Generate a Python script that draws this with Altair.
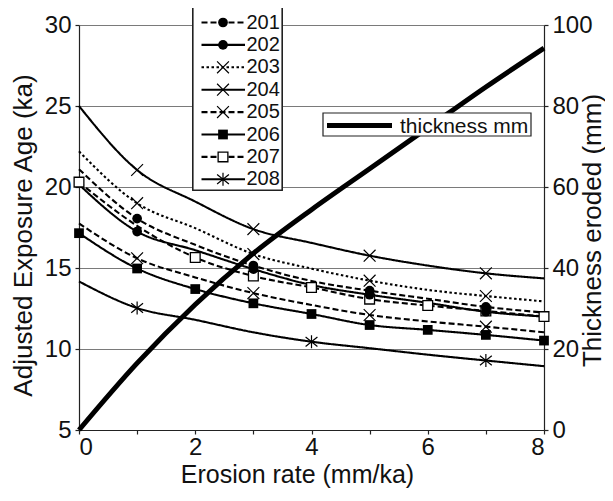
import altair as alt
import pandas as pd

# ---------------- data ----------------
erosion_rate = [0, 1, 2, 3, 4, 5, 6, 7, 8]

age_201 = [21.1, 18.05, 16.43, 15.15, 14.2, 13.6, 13.1, 12.6, 12.25]
age_202 = [20.15, 17.25, 16.1, 14.93, 13.95, 13.35, 12.85, 12.3, 12.0]
age_203 = [22.2, 19.0, 17.46, 15.86, 14.96, 14.22, 13.65, 13.27, 12.94]
age_204 = [25.0, 21.05, 19.1, 17.4, 16.55, 15.76, 15.15, 14.67, 14.36]
age_205 = [17.75, 15.6, 14.42, 13.45, 12.72, 12.1, 11.7, 11.38, 11.03]
age_206 = [17.15, 14.97, 13.7, 12.82, 12.16, 11.48, 11.18, 10.87, 10.52]
age_207 = [20.3, 17.6, 15.65, 14.5, 13.8, 13.08, 12.68, 12.35, 12.0]
age_208 = [14.17, 12.53, 11.8, 11.03, 10.45, 10.05, 9.65, 9.29, 8.94]

thickness_mm = [0, 16.5, 31.0, 43.6, 54.4, 64.5, 74.6, 84.7, 94.3]

series_names = ["201", "202", "203", "204", "205", "206", "207", "208"]
series_ages = [age_201, age_202, age_203, age_204, age_205, age_206, age_207, age_208]

# erosion rates at which each series shows a marker
marker_rates = {
    "201": [1, 3, 5, 7],
    "202": [1, 3, 5, 7],
    "203": [1, 3, 5, 7],
    "204": [1, 3, 5, 7],
    "205": [1, 3, 5, 7],
    "206": [0, 1, 2, 3, 4, 5, 6, 7, 8],
    "207": [0, 2, 3, 4, 5, 6, 7, 8],
    "208": [1, 4, 7],
}

# ---------------- styles ----------------
FONT = "Liberation Sans"
XPATH = "M-1,-1L1,1M-1,1L1,-1"
STAR = "M-1,-0.8L1,0.8M-1,0.8L1,-0.8M0,-1.1L0,1.1"
dashes = {"201": [6, 3], "202": [1, 0], "203": [2.5, 2.5], "204": [1, 0],
          "205": [6, 3], "206": [1, 0], "207": [6, 3], "208": [1, 0]}
shapes = {"201": "circle", "202": "circle", "203": XPATH, "204": XPATH,
          "205": XPATH, "206": "square", "207": "square", "208": STAR}
kind = {"201": "filled", "202": "filled", "203": "stroke", "204": "stroke",
        "205": "stroke", "206": "filled", "207": "open", "208": "stroke"}

dash_scale = alt.Scale(domain=series_names, range=[dashes[s] for s in series_names])
shape_scale = alt.Scale(domain=series_names, range=[shapes[s] for s in series_names])

# ---------------- tables ----------------
rows = []
for name, ages in zip(series_names, series_ages):
    for r, a in zip(erosion_rate, ages):
        rows.append({"rate": r, "age": a, "series": name})
lines_df = pd.DataFrame(rows)

mrows = []
for name, ages in zip(series_names, series_ages):
    for r in marker_rates[name]:
        mrows.append({"rate": r, "age": ages[erosion_rate.index(r)],
                      "series": name, "kind": kind[name]})
marks_df = pd.DataFrame(mrows)

thick_df = pd.DataFrame({"rate": erosion_rate, "thickness": thickness_mm})

leg_df = pd.DataFrame({"series": series_names,
                       "ly": [-2.5 + 22.4 * i for i in range(len(series_names))],
                       "kind": [kind[s] for s in series_names]})

# ---------------- axes ----------------
x_enc = alt.X("rate:Q", scale=alt.Scale(domain=[0, 8], nice=False),
              axis=alt.Axis(values=list(range(9)), grid=False, tickSize=4,
                            labelExpr="datum.value % 2 == 0 ? datum.label : ''",
                            labelPadding=1, title="Erosion rate (mm/ka)",
                            titleFontSize=25,
                            titleX=218, titleY=52.5, titleBaseline="alphabetic"))

left_axis = alt.Axis(values=[5, 10, 15, 20, 25, 30], grid=True, gridColor="#7a7a7a",
                     gridWidth=1, tickSize=4, labelPadding=4,
                     title="Adjusted Exposure Age (ka)", titleAngle=270,
                     titleX=-48, titleY=210, titleBaseline="alphabetic")
y_age = alt.Y("age:Q", scale=alt.Scale(domain=[5, 30], nice=False, zero=False), axis=left_axis)

right_axis = alt.Axis(orient="right", values=[0, 20, 40, 60, 80, 100], grid=False,
                      tickSize=4, labelPadding=4, title="Thickness eroded (mm)",
                      titleAngle=270, titleX=56, titleY=205, titleBaseline="alphabetic")

# ---------------- series ----------------
series_lines = alt.Chart(lines_df).mark_line(
    color="black", strokeWidth=2.1, interpolate="monotone"
).encode(
    x=x_enc, y=y_age, detail="series:N",
    strokeDash=alt.StrokeDash("series:N", scale=dash_scale, legend=None),
)

open_pts = alt.Chart(marks_df[marks_df["kind"] == "open"]).mark_point(
    filled=True, fill="white", stroke="black", strokeWidth=1.3, size=95, opacity=1
).encode(x=x_enc, y=y_age, shape=alt.Shape("series:N", scale=shape_scale, legend=None))

filled_pts = alt.Chart(marks_df[marks_df["kind"] == "filled"]).mark_point(
    filled=True, color="black", size=95, opacity=1
).encode(x=x_enc, y=y_age, shape=alt.Shape("series:N", scale=shape_scale, legend=None))

stroke_pts = alt.Chart(marks_df[marks_df["kind"] == "stroke"]).mark_point(
    filled=False, color="black", strokeWidth=1.2, size=140, opacity=1
).encode(x=x_enc, y=y_age, shape=alt.Shape("series:N", scale=shape_scale, legend=None))

age_layer = alt.layer(series_lines, open_pts, filled_pts, stroke_pts)

thick_line = alt.Chart(thick_df).mark_line(
    color="black", strokeWidth=5, interpolate="monotone"
).encode(
    x=x_enc,
    y=alt.Y("thickness:Q", scale=alt.Scale(domain=[0, 100], nice=False), axis=right_axis),
)

# ---------------- legends ----------------
leg_box = alt.Chart(leg_df).mark_rect(
    fill="white", stroke="#222", strokeWidth=1.2
).encode(x=alt.value(114), x2=alt.value(203), y=alt.value(-30), y2=alt.value(165))

ly = alt.Y("ly:Q", scale=None)
leg_rules = alt.Chart(leg_df).mark_rule(color="black", strokeWidth=2.1).encode(
    x=alt.value(122.5), x2=alt.value(166), y=ly,
    strokeDash=alt.StrokeDash("series:N", scale=dash_scale, legend=None),
)
leg_filled = alt.Chart(leg_df[leg_df["kind"] == "filled"]).mark_point(
    filled=True, color="black", size=95, opacity=1
).encode(x=alt.value(144), y=ly, shape=alt.Shape("series:N", scale=shape_scale, legend=None))
leg_open = alt.Chart(leg_df[leg_df["kind"] == "open"]).mark_point(
    filled=True, fill="white", stroke="black", strokeWidth=1.3, size=95, opacity=1
).encode(x=alt.value(144), y=ly, shape=alt.Shape("series:N", scale=shape_scale, legend=None))
leg_stroke = alt.Chart(leg_df[leg_df["kind"] == "stroke"]).mark_point(
    filled=False, color="black", strokeWidth=1.2, size=140, opacity=1
).encode(x=alt.value(144), y=ly, shape=alt.Shape("series:N", scale=shape_scale, legend=None))
leg_text = alt.Chart(leg_df).mark_text(
    align="left", baseline="middle", font=FONT, fontSize=20, color="#111"
).encode(x=alt.value(167.5), y=ly, text="series:N")

thick_box = alt.Chart(thick_df.head(1)).mark_rect(
    fill="white", stroke="#222", strokeWidth=1.2
).encode(x=alt.value(244), x2=alt.value(452), y=alt.value(88), y2=alt.value(111))
thick_sample = alt.Chart(thick_df.head(1)).mark_rule(color="black", strokeWidth=5).encode(
    x=alt.value(248), x2=alt.value(313), y=alt.value(100.5))
thick_text = alt.Chart(pd.DataFrame({"label": ["thickness mm"]})).mark_text(
    align="left", baseline="alphabetic", font=FONT, fontSize=21, color="#111"
).encode(x=alt.value(321), y=alt.value(108), text="label:N")

chart = alt.layer(
    age_layer, thick_line,
    leg_box, leg_rules, leg_filled, leg_open, leg_stroke, leg_text,
    thick_box, thick_sample, thick_text,
).resolve_scale(y="independent").properties(
    width=465, height=405,
    autosize=alt.AutoSizeParams(type="none"),
    padding={"left": 71, "top": 17, "right": 61, "bottom": 58},
).configure_view(stroke="transparent").configure_axis(
    labelFont=FONT, labelFontSize=24, labelColor="#111",
    titleFont=FONT, titleFontSize=26, titleFontWeight="normal", titleColor="#111",
    domainColor="#222", tickColor="#222", domainWidth=1.2, tickWidth=1.2,
)

chart.save("out.html", embed_options={"renderer": "svg", "actions": False})
